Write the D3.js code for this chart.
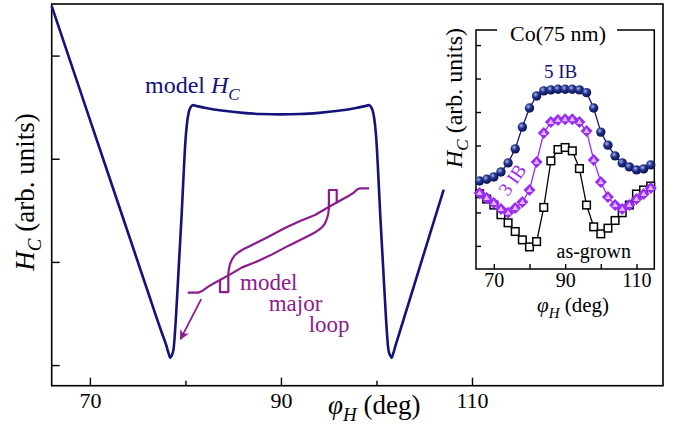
<!DOCTYPE html>
<html>
<head>
<meta charset="utf-8">
<style>
  body { margin: 0; background: #fff; }
  svg { font-family: "Liberation Serif", "Times New Roman", serif; }
  .axis path.domain { display: none; }
  .axis line { stroke: #000; stroke-width: 1.4; }
  .axis text { fill: #000; }
</style>
<script src="https://cdn.jsdelivr.net/npm/d3@7"></script>
</head>
<body>
<script>
// ---- main panel: model Hc(phi_H) ----
var modelAngle = [66, 68, 70, 72, 74, 76, 77.5, 78.0, 78.25, 78.4, 78.55, 78.75, 79.0, 79.3, 79.6, 79.85,
  80.0, 80.15, 80.35, 80.55, 80.8, 81.2, 82, 84, 86, 88, 90, 92, 94, 96, 98, 98.8, 99.2, 99.45, 99.65,
  99.85, 100.0, 100.15, 100.4, 100.7, 101.0, 101.25, 101.45, 101.6, 101.75, 102.0, 102.5, 104, 106, 107.04];
var modelHc = [3.48, 2.93, 2.38, 1.83, 1.28, 0.73, 0.32, 0.19, 0.11, 0.07, 0.09, 0.15, 0.45, 0.95, 1.45, 1.92,
  2.17, 2.33, 2.45, 2.50, 2.52, 2.51, 2.495, 2.465, 2.445, 2.433, 2.43, 2.433, 2.445, 2.465, 2.495, 2.51, 2.52, 2.50, 2.45,
  2.33, 2.17, 1.92, 1.45, 0.95, 0.45, 0.15, 0.09, 0.07, 0.11, 0.19, 0.34, 0.79, 1.39, 1.70];

// model major loop, drawn in the main panel's units
// ascending branch (with the upper switching step)
var loopUpAngle = [80.24, 81.35, 81.84, 82.39, 82.99, 83.62, 84.69, 85.94, 87.51, 89.08, 90.86, 92.75, 93.55, 93.95,
  94.32, 94.62, 94.82, 94.95, 95.02, 95.02, 95.84, 95.84, 96.50, 97.12, 97.65, 97.96, 98.22, 99.22];
var loopUpVal = [0.702, 0.702, 0.723, 0.760, 0.793, 0.825, 0.879, 0.947, 1.005, 1.073, 1.160, 1.247, 1.285, 1.310,
  1.338, 1.375, 1.420, 1.465, 1.519, 1.697, 1.697, 1.576, 1.610, 1.642, 1.673, 1.702, 1.712, 1.712];
// descending branch (with the lower switching step)
var loopDownAngle = [95.84, 94.82, 93.57, 92.00, 90.42, 88.64, 86.76, 86.05, 85.55, 85.15, 84.88, 84.69, 84.56, 84.49,
  84.49, 83.62, 83.62];
var loopDownVal = [1.576, 1.523, 1.455, 1.397, 1.329, 1.241, 1.154, 1.122, 1.094, 1.062, 1.025, 0.985, 0.935, 0.883,
  0.708, 0.708, 0.825];
var arrowAngle = [81.65, 79.49];
var arrowVal = [0.639, 0.252];

var mainXMajor = [70, 90, 110];
var mainXMinor = [80, 100];
var mainYTicks = [0, 1, 2, 3];

// ---- inset: measured Hc, Co(75 nm) ----
var insetAngle = [66, 68, 70, 72, 74, 76, 78, 80, 82, 84, 86, 88, 90, 92, 94, 96, 98, 100, 102, 104, 106, 108, 110, 112, 114];
var hc5IB = [1.94, 1.99, 2.06, 2.21, 2.48, 2.90, 3.55, 4.12, 4.48, 4.63, 4.66, 4.68, 4.68, 4.68, 4.66, 4.58, 4.12,
  3.40, 3.01, 2.69, 2.48, 2.36, 2.27, 2.30, 2.42];
var hc3IB = [1.58, 1.43, 1.28, 1.10, 0.99, 1.13, 1.31, 1.67, 2.51, 3.37, 3.70, 3.76, 3.78, 3.78, 3.70, 3.43, 2.57,
  1.91, 1.46, 1.22, 1.10, 1.22, 1.40, 1.55, 1.73];
var hcAsGrown = [1.56, 1.40, 1.22, 0.93, 0.69, 0.43, 0.18, -0.03, 0.13, 1.15, 2.54, 2.88, 2.94, 2.84, 2.31, 1.22, 0.57,
  0.36, 0.53, 0.76, 0.99, 1.22, 1.55, 1.67, 1.79];
var insetXTicks = [70, 80, 90, 100, 110];
var insetXLabels = {70: "70", 90: "90", 110: "110"};
var insetYTicks = [0, 1, 2, 3, 4, 5, 6];

var navy = "#13137a";
var loopColor = "#8c1c8c";
var violet = "#9a2cf5";

var svg = d3.select("body").append("svg")
  .attr("width", 678)
  .attr("height", 431);

var defs = svg.append("defs");
var ball = defs.append("radialGradient").attr("id", "ball")
  .attr("cx", "38%").attr("cy", "35%").attr("r", "65%");
ball.append("stop").attr("offset", "0%").attr("stop-color", "#aab4ea");
ball.append("stop").attr("offset", "45%").attr("stop-color", "#23338c");
ball.append("stop").attr("offset", "100%").attr("stop-color", "#0a1150");

defs.append("marker").attr("id", "arrow")
  .attr("viewBox", "0 0 10 10").attr("refX", 9).attr("refY", 5)
  .attr("markerWidth", 5.5).attr("markerHeight", 5.5)
  .attr("markerUnits", "strokeWidth")
  .attr("orient", "auto")
  .append("path").attr("d", "M0,0 L10,5 L0,10 L3,5 Z").attr("fill", loopColor);

// main scales
var x = d3.scaleLinear().domain([66, 130]).range([51.7, 663]);
var y = d3.scaleLinear().domain([-0.2, 3.5]).range([385.7, 4]);

var main = svg.append("g");

main.append("rect")
  .attr("x", x.range()[0]).attr("y", y.range()[1])
  .attr("width", x.range()[1] - x.range()[0])
  .attr("height", y.range()[0] - y.range()[1])
  .attr("fill", "none").attr("stroke", "#000").attr("stroke-width", 1.6);

var xAxis = main.append("g").attr("class", "axis")
  .attr("transform", "translate(0," + y.range()[0] + ")")
  .call(d3.axisBottom(x).tickValues(mainXMajor).tickSize(-8).tickPadding(7).tickFormat(d3.format("d")));
xAxis.attr("font-family", null).attr("font-size", 22);

main.append("g").attr("class", "axis")
  .attr("transform", "translate(0," + y.range()[0] + ")")
  .call(d3.axisBottom(x).tickValues(mainXMinor).tickSize(-5).tickFormat(""));

main.append("g").attr("class", "axis")
  .attr("transform", "translate(" + x.range()[0] + ",0)")
  .call(d3.axisLeft(y).tickValues(mainYTicks).tickSize(-8).tickFormat(""));

var modelLine = d3.line()
  .x(function(d) { return x(d[0]); })
  .y(function(d) { return y(d[1]); })
  .curve(d3.curveMonotoneX);

main.append("path")
  .datum(d3.zip(modelAngle, modelHc))
  .attr("d", modelLine)
  .attr("fill", "none").attr("stroke", navy).attr("stroke-width", 2.6)
  .attr("stroke-linejoin", "round");

var straight = d3.line()
  .x(function(d) { return x(d[0]); })
  .y(function(d) { return y(d[1]); });

main.append("path")
  .datum(d3.zip(loopUpAngle, loopUpVal))
  .attr("d", straight)
  .attr("fill", "none").attr("stroke", loopColor).attr("stroke-width", 2.2)
  .attr("stroke-linejoin", "round");

main.append("path")
  .datum(d3.zip(loopDownAngle, loopDownVal))
  .attr("d", straight)
  .attr("fill", "none").attr("stroke", loopColor).attr("stroke-width", 2.2)
  .attr("stroke-linejoin", "round");

main.append("line")
  .attr("x1", x(arrowAngle[0])).attr("y1", y(arrowVal[0]))
  .attr("x2", x(arrowAngle[1])).attr("y2", y(arrowVal[1]))
  .attr("stroke", loopColor).attr("stroke-width", 1.8)
  .attr("marker-end", "url(#arrow)");

// main labels
var lblHc = main.append("text").attr("x", 145).attr("y", 93)
  .attr("font-size", 24).attr("fill", navy);
lblHc.append("tspan").text("model ");
lblHc.append("tspan").attr("font-style", "italic").text("H");
lblHc.append("tspan").attr("font-style", "italic").attr("font-size", 17).attr("dy", 7).text("C");

var loopLbl = [["model", 240, 289.5], ["major", 268.7, 311], ["loop", 308.7, 332]];
main.selectAll(".looplbl").data(loopLbl).enter().append("text")
  .attr("class", "looplbl")
  .attr("x", function(d) { return d[1]; })
  .attr("y", function(d) { return d[2]; })
  .attr("font-size", 23).attr("fill", loopColor)
  .text(function(d) { return d[0]; });

var xl = main.append("text").attr("x", 328).attr("y", 414).attr("font-size", 27);
xl.append("tspan").attr("font-style", "italic").text("\u03C6");
xl.append("tspan").attr("font-style", "italic").attr("font-size", 19).attr("dy", 7).text("H");
xl.append("tspan").attr("dy", -7).text(" (deg)");

var yl = main.append("text")
  .attr("transform", "translate(34,192) rotate(-90)")
  .attr("text-anchor", "middle").attr("font-size", 27);
yl.append("tspan").attr("font-style", "italic").text("H");
yl.append("tspan").attr("font-style", "italic").attr("font-size", 19).attr("dy", 7).text("C");
yl.append("tspan").attr("dy", -7).text(" (arb. units)");

// ---- inset ----
var ix = d3.scaleLinear().domain([65, 115]).range([476, 654.3]);
var iy = d3.scaleLinear().domain([-0.69, 6.45]).range([269, 30]);
var inset = svg.append("g");

inset.append("rect")
  .attr("x", ix.range()[0]).attr("y", iy.range()[1])
  .attr("width", ix.range()[1] - ix.range()[0])
  .attr("height", iy.range()[0] - iy.range()[1])
  .attr("fill", "#fff").attr("stroke", "#000").attr("stroke-width", 1.5);

inset.append("rect").attr("x", 497).attr("y", 24).attr("width", 120).attr("height", 12).attr("fill", "#fff");
inset.append("text").attr("x", 558).attr("y", 41).attr("text-anchor", "middle")
  .attr("font-size", 22).text("Co(75 nm)");

var ixAxis = inset.append("g").attr("class", "axis")
  .attr("transform", "translate(0," + iy.range()[0] + ")")
  .call(d3.axisBottom(ix).tickValues(insetXTicks).tickSize(-5).tickPadding(4)
    .tickFormat(function(d) { return insetXLabels[d] || ""; }));
ixAxis.attr("font-family", null).attr("font-size", 20);

inset.append("g").attr("class", "axis")
  .attr("transform", "translate(" + ix.range()[0] + ",0)")
  .call(d3.axisLeft(iy).tickValues(insetYTicks).tickSize(-5).tickFormat(""));

var iline = d3.line()
  .x(function(d) { return ix(d[0]); })
  .y(function(d) { return iy(d[1]); });

// as-grown (drawn first, lies underneath)
inset.append("path").datum(d3.zip(insetAngle, hcAsGrown)).attr("d", iline)
  .attr("fill", "none").attr("stroke", "#000").attr("stroke-width", 1.3);
inset.selectAll(".ag").data(d3.zip(insetAngle, hcAsGrown)).enter().append("rect")
  .attr("class", "ag")
  .attr("x", function(d) { return ix(d[0]) - 3.8; })
  .attr("y", function(d) { return iy(d[1]) - 3.8; })
  .attr("width", 7.6).attr("height", 7.6)
  .attr("fill", "#fff").attr("stroke", "#000").attr("stroke-width", 1.5);

// 3 IB
inset.append("path").datum(d3.zip(insetAngle, hc3IB)).attr("d", iline)
  .attr("fill", "none").attr("stroke", violet).attr("stroke-width", 1.3);
var dia = inset.selectAll(".ib3").data(d3.zip(insetAngle, hc3IB)).enter().append("g")
  .attr("class", "ib3")
  .attr("transform", function(d) { return "translate(" + ix(d[0]) + "," + iy(d[1]) + ")"; });
dia.append("path").attr("d", "M0,-6 L6,0 L0,6 L-6,0 Z").attr("fill", violet);
dia.append("path").attr("d", "M0,-3 L3,2 L-3,2 Z").attr("fill", "#dcb8ff");

// 5 IB
inset.append("path").datum(d3.zip(insetAngle, hc5IB)).attr("d", iline)
  .attr("fill", "none").attr("stroke", navy).attr("stroke-width", 1.3);
inset.selectAll(".ib5").data(d3.zip(insetAngle, hc5IB)).enter().append("circle")
  .attr("class", "ib5")
  .attr("cx", function(d) { return ix(d[0]); })
  .attr("cy", function(d) { return iy(d[1]); })
  .attr("r", 4.7).attr("fill", "url(#ball)");

inset.append("text").attr("x", 544).attr("y", 78).attr("font-size", 19).attr("fill", navy).text("5 IB");
inset.append("text").attr("transform", "translate(508,197) rotate(-55)")
  .attr("font-size", 19).attr("fill", violet).text("3 IB");
inset.append("text").attr("x", 556.5).attr("y", 258).attr("font-size", 20).attr("fill", "#000").text("as-grown");

var ixl = inset.append("text").attr("x", 537).attr("y", 312).attr("font-size", 21);
ixl.append("tspan").attr("font-style", "italic").text("\u03C6");
ixl.append("tspan").attr("font-style", "italic").attr("font-size", 15).attr("dy", 6).text("H");
ixl.append("tspan").attr("dy", -6).text(" (deg)");

var iyl = inset.append("text")
  .attr("transform", "translate(462,98) rotate(-90)")
  .attr("text-anchor", "middle").attr("font-size", 24);
iyl.append("tspan").attr("font-style", "italic").text("H");
iyl.append("tspan").attr("font-style", "italic").attr("font-size", 17).attr("dy", 6).text("C");
iyl.append("tspan").attr("dy", -6).text(" (arb. units)");
</script>
</body>
</html>
